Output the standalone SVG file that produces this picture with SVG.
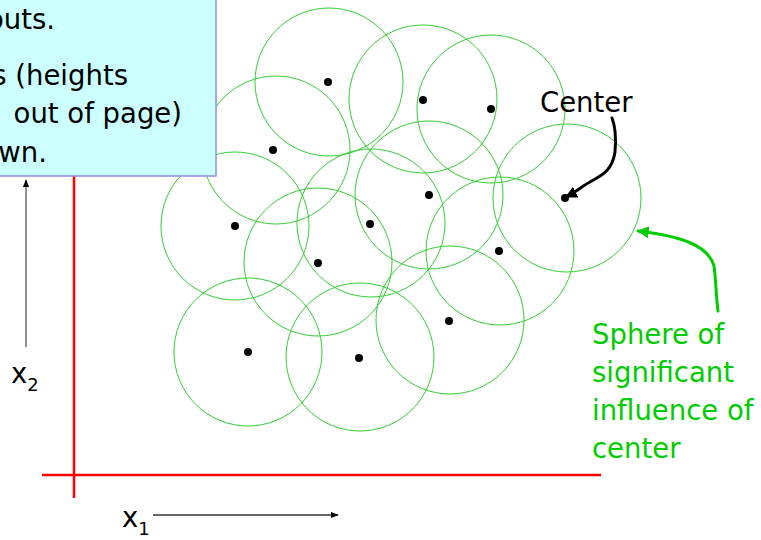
<svg xmlns="http://www.w3.org/2000/svg" width="761" height="540" viewBox="0 0 761 540">
<style>
.sph{fill:none;stroke:#33cc33;stroke-width:1}
.dot{fill:#000}
.t{font-family:"DejaVu Sans","Verdana",sans-serif;font-size:27.5px}
.axis{stroke:#ff0000;stroke-width:2.5}
</style>
<defs>
<marker id="ahB" viewBox="0 0 10 10" refX="9" refY="5" markerWidth="4" markerHeight="4" orient="auto-start-reverse" markerUnits="strokeWidth"><path d="M0,0 L10,5 L0,10 z" fill="#000"/></marker>
<marker id="ahG" viewBox="0 0 10 10" refX="9" refY="5" markerWidth="4" markerHeight="4" orient="auto" markerUnits="strokeWidth"><path d="M0,0 L10,5 L0,10 z" fill="#00cc00"/></marker>
<marker id="ahS" viewBox="0 0 10 10" refX="9" refY="5" markerWidth="8" markerHeight="8" orient="auto" markerUnits="userSpaceOnUse"><path d="M0,1 L10,5 L0,9 z" fill="#000"/></marker>
</defs>
<rect width="761" height="540" fill="#fff"/>
<g id="axes">
<line class="axis" x1="74" y1="170" x2="74" y2="498"/>
<line class="axis" x1="42" y1="475" x2="601" y2="475"/>
</g>
<g id="spheres">
<g id="s1"><circle class="sph" cx="329" cy="82" r="74"/><circle class="dot" cx="328" cy="82" r="4"/></g>
<g id="s2"><circle class="sph" cx="423" cy="99" r="74"/><circle class="dot" cx="423" cy="100" r="4"/></g>
<g id="s3"><circle class="sph" cx="491" cy="109" r="74"/><circle class="dot" cx="491" cy="109" r="4"/></g>
<g id="s4"><circle class="sph" cx="276" cy="150" r="74"/><circle class="dot" cx="273" cy="150" r="4"/></g>
<g id="s5"><circle class="sph" cx="235" cy="226" r="74"/><circle class="dot" cx="235" cy="226" r="4"/></g>
<g id="s6"><circle class="sph" cx="429" cy="195" r="74"/><circle class="dot" cx="429" cy="195" r="4"/></g>
<g id="s7"><circle class="sph" cx="371" cy="223" r="74"/><circle class="dot" cx="370" cy="224" r="4"/></g>
<g id="s8"><circle class="sph" cx="318" cy="262" r="74"/><circle class="dot" cx="318" cy="263" r="4"/></g>
<g id="s9"><circle class="sph" cx="567" cy="198" r="74"/><circle class="dot" cx="565" cy="198" r="4"/></g>
<g id="s10"><circle class="sph" cx="500" cy="251" r="74"/><circle class="dot" cx="499" cy="251" r="4"/></g>
<g id="s11"><circle class="sph" cx="450" cy="320" r="74"/><circle class="dot" cx="449" cy="321" r="4"/></g>
<g id="s12"><circle class="sph" cx="248" cy="352" r="74"/><circle class="dot" cx="248" cy="352" r="4"/></g>
<g id="s13"><circle class="sph" cx="360" cy="357" r="74"/><circle class="dot" cx="359" cy="358" r="4"/></g>
</g>
<g id="note">
<rect x="-5" y="-5" width="221" height="181" fill="#ccffff" stroke="#8c8ce0" stroke-width="1.5"/>
<text class="t" text-anchor="end"><tspan x="55" y="29">outs.</tspan><tspan x="128" y="85">s (heights</tspan><tspan x="182" y="123">out of page)</tspan><tspan x="47" y="162">wn.</tspan></text>
</g>
<g id="labels">
<text class="t" x="540" y="112">Center</text>
<text class="t" fill="#00cc00"><tspan x="592" y="344">Sphere of</tspan><tspan x="592" y="382">significant</tspan><tspan x="592" y="420">influence of</tspan><tspan x="592" y="458">center</tspan></text>
<text class="t" x="11" y="383">x<tspan font-size="18" dy="8">2</tspan></text>
<text class="t" x="122" y="527">x<tspan font-size="18" dy="8">1</tspan></text>
</g>
<g id="connectors">
<path d="M612,118 C616,128 616,140 615,152 C612,172 600,176 590,182 C582,186 576,192 566,197" fill="none" stroke="#000" stroke-width="3" stroke-linecap="round" marker-end="url(#ahB)"/>
<path d="M718,311 C716,296 716,280 714,266 C708,245 680,236 638,231" fill="none" stroke="#00cc00" stroke-width="3" stroke-linecap="round" marker-end="url(#ahG)"/>
<line x1="26" y1="347" x2="26" y2="180" stroke="#555" stroke-width="1.3" marker-end="url(#ahS)"/>
<line x1="153" y1="515" x2="338" y2="515" stroke="#333" stroke-width="1.3" marker-end="url(#ahS)"/>
</g>
</svg>
